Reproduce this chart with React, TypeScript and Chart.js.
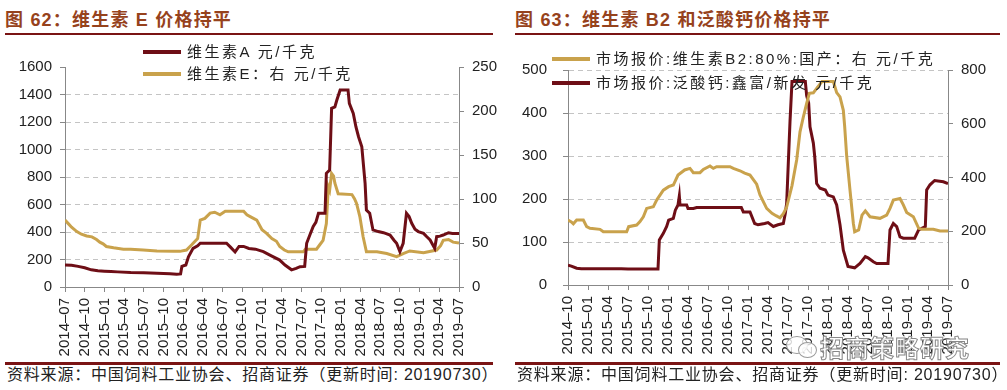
import React, { useEffect, useRef } from "react";
import { Chart, registerables } from "chart.js";

Chart.register(...registerables);

// ---------- tick labels ----------
const leftTickLabels = [
  "2014–07", "2014–10", "2015–01", "2015–04", "2015–07", "2015–10", "2016–01",
  "2016–04", "2016–07", "2016–10", "2017–01", "2017–04", "2017–07", "2017–10",
  "2018–01", "2018–04", "2018–07", "2018–10", "2019–01", "2019–04", "2019–07",
];
const rightTickLabels = [
  "2014–10", "2015–01", "2015–04", "2015–07", "2015–10", "2016–01", "2016–04",
  "2016–07", "2016–10", "2017–01", "2017–04", "2017–07", "2017–10", "2018–01",
  "2018–04", "2018–07", "2018–10", "2019–01", "2019–04", "2019–07",
];

// ---------- chart 62: months since 2014-07 ----------
const vitAMonths = [
  0, 1, 2, 3, 4, 5, 6, 7, 8, 10, 12, 14, 16, 17, 17.6, 17.8, 18.4, 18.8, 19.5, 20.2, 20.6,
  24.6, 25.2, 25.9, 26.5, 27.2, 28, 29, 30.2, 31.5, 32.7, 33.5, 34.5, 35.2, 35.8, 36.5,
  36.8, 37.3, 37.8, 38.2, 38.6, 39.6, 39.8, 40.3, 40.6, 41.1, 41.4, 41.9, 43.1, 43.3,
  43.9, 44.3, 44.7, 45.2, 45.7, 45.9, 46.4, 46.9, 47.7, 48.5, 49.5, 50.1, 50.5, 51,
  51.5, 52, 52.4, 52.8, 53.3, 53.8, 54.6, 55.1, 55.6, 56.3, 56.6, 57.1, 57.6, 58.4, 59, 60,
];
const vitAPrices = [
  160, 158, 150, 140, 125, 118, 115, 112, 110, 105, 103, 100, 97, 92, 95, 150, 160, 220, 281, 300, 318,
  318, 290, 255, 295, 295, 280, 275, 257, 225, 196, 160, 125, 135, 148, 150,
  318, 380, 440, 470, 536, 536, 827, 850, 1300, 1310, 1360, 1433, 1433, 1336,
  1263, 1166, 1093, 1020, 754, 560, 536, 415, 403, 395, 378, 340, 318, 257,
  318, 536, 512, 463, 420, 403, 390, 365, 342, 281, 366, 370, 378, 395, 390, 390,
];
const vitEMonths = [
  0, 0.5, 1, 1.8, 2.5, 3.3, 4.1, 4.8, 5.3, 5.8, 6.3, 7.4, 8.9, 10, 11.9, 14, 16.5, 17.5,
  18.5, 19.3, 19.8, 20.2, 20.6, 21.3, 22.1, 22.8, 23.6, 24.4, 27.2, 27.7, 28.2, 29.2, 30,
  30.7, 31.5, 32.2, 32.7, 33.4, 34, 36.3, 36.6, 38.3, 38.8, 39.3, 39.8, 40.1, 40.3, 40.6,
  40.9, 41.1, 41.6, 43.7, 44.1, 44.4, 44.9, 45.4, 45.9, 47.5, 49, 50.5, 51.5, 52.5, 54.6,
  56.6, 57.2, 57.6, 58.4, 59.1, 60,
];
const vitEPrices = [
  76, 72, 68, 63, 60, 58, 57, 54, 51, 49, 46, 44.5, 43, 43, 42, 41, 40.5, 40.5,
  42, 48, 52, 55, 76, 78, 84, 85, 82, 86, 86, 82, 80, 76, 65,
  61, 55, 52, 46, 42, 40, 40, 43, 43, 48, 53, 72, 114, 110, 129,
  126, 118, 106, 105, 100, 95, 80, 57, 40, 40, 38, 34.5, 38, 41, 39,
  42, 47, 53, 54, 51, 50,
];

// ---------- chart 63: months since 2014-10 ----------
const b2Months = [
  0, 0.5, 0.8, 1.3, 2.3, 2.8, 3.3, 4.8, 5.3, 8.8, 9.1, 10.3, 10.8, 11.3, 11.8, 12.8, 13.3,
  14.3, 15.1, 15.8, 16.5, 17.5, 18.3, 18.8, 19.8, 20.3, 21.3, 21.8, 22.3, 24.3, 24.8, 25.8,
  26.5, 27.3, 28.3, 28.8, 29.8, 30.6, 31.2, 31.8, 32.3, 32.8, 33.6, 34.3, 34.8, 35.3, 35.8,
  36.2, 36.8, 37.5, 38.1, 39.8, 40.3, 40.8, 41.3, 41.5, 41.8, 42.3, 42.8, 43, 43.6, 44.1,
  44.6, 45.3, 46.8, 47.8, 48.3, 48.8, 49.8, 50.3, 50.8, 51.8, 52.6, 53.1, 54.8, 55.8, 57,
];
const b2Prices = [
  242, 235, 228, 242, 242, 217, 211, 207, 198, 198, 217, 223, 236, 254, 285, 291, 316,
  353, 366, 372, 409, 428, 434, 418, 418, 430, 443, 434, 440, 440, 434, 425,
  416, 409, 375, 335, 285, 267, 258, 250, 265, 290, 370, 465, 570, 625, 676,
  713, 715, 738, 757, 757, 716, 700, 650, 590, 480, 353, 230, 198, 205, 260,
  276, 254, 248, 260, 285, 316, 322, 298, 270, 254, 211, 207, 207, 201, 201,
];
const caPanMonths = [
  0, 0.5, 1.3, 2, 8, 9, 13.5, 13.7, 14.3, 14.8, 15.1, 15.8, 16.1, 16.5, 16.7, 16.8, 17.8,
  18, 18.8, 19.3, 26, 26.3, 27.3, 28, 28.5, 29.5, 30, 30.8, 31.5, 32.3, 32.6, 32.8, 33.3,
  33.6, 35.6, 35.8, 36.1, 36.3, 36.8, 37, 37.3, 37.8, 38.6, 39, 39.8, 40.3, 40.8, 41.3,
  42, 43, 43.8, 44.6, 45, 45.8, 46.3, 48, 48.3, 48.8, 49.3, 49.8, 50.3, 52, 52.6, 53.6,
  53.8, 54.3, 55, 56.3, 57,
];
const caPanPrices = [
  46, 44, 39, 38, 38, 37, 37, 105, 120, 136, 151, 155, 174, 186, 207, 186, 186,
  178, 178, 180, 180, 170, 170, 143, 140, 143, 145, 136, 140, 143, 167, 190, 380,
  473, 473, 440, 423, 368, 330, 300, 236, 225, 221, 209, 205, 186, 140, 81,
  43, 40, 50, 66, 63, 54, 50, 50, 128, 143, 136, 112, 109, 109, 128, 136,
  221, 233, 243, 240, 236,
];

const MAROON = "#6E0E16";
const GOLD = "#C9A24C";
const TICK_FONT = '"Liberation Sans", Arial, sans-serif';
const CJK_FONT = '"Liberation Sans", "Noto Sans CJK SC", sans-serif';

const zip = (xs: number[], ys: number[]) => xs.map((x, i) => ({ x, y: ys[i] }));

interface PanelProps {
  width: number;
  height: number;
  tickLabels: string[];
  leftMax: number;
  leftStep: number;
  rightMax: number;
  rightStep: number;
  leftAxisW: number;
  rightAxisW: number;
  topPad: number;
  bottomH: number;
  leftTickPad: number;
  rightTickPad: number;
  gridTop: boolean;
  series: { data: { x: number; y: number }[]; color: string; axis: string }[];
}

function Panel(p: PanelProps) {
  const ref = useRef<HTMLCanvasElement | null>(null);
  useEffect(() => {
    if (!ref.current) return;
    const maxX = (p.tickLabels.length - 1) * 3;
    const chart = new Chart(ref.current, {
      type: "line",
      data: {
        datasets: p.series.map((s) => ({
          data: s.data,
          borderColor: s.color,
          backgroundColor: s.color,
          borderWidth: 3,
          pointRadius: 0,
          tension: 0,
          yAxisID: s.axis,
        })),
      },
      options: {
        animation: false,
        responsive: false,
        maintainAspectRatio: false,
        layout: { padding: { top: p.topPad, left: 0, right: 0, bottom: 0 } },
        plugins: { legend: { display: false }, tooltip: { enabled: false } },
        scales: {
          x: {
            type: "linear",
            min: 0,
            max: maxX,
            afterBuildTicks: (s: any) => {
              s.ticks = p.tickLabels.map((_, i) => ({ value: i * 3 }));
            },
            afterFit: (s: any) => {
              s.height = p.bottomH;
            },
            ticks: {
              autoSkip: false,
              minRotation: 90,
              maxRotation: 90,
              padding: 6,
              color: "#222",
              font: { size: 15, family: TICK_FONT },
              callback: (v: any) => p.tickLabels[Math.round(Number(v) / 3)],
            },
            grid: { drawOnChartArea: false, tickLength: 5, tickColor: "#888" },
            border: { color: "#888", width: 1 },
          },
          yL: {
            position: "left",
            min: 0,
            max: p.leftMax,
            afterFit: (s: any) => {
              s.width = p.leftAxisW;
            },
            ticks: {
              stepSize: p.leftStep,
              padding: p.leftTickPad,
              color: "#222",
              font: { size: 15, family: TICK_FONT },
              callback: (v: any) => String(v),
            },
            grid: {
              color: (ctx: any) => {
                const v = ctx.tick ? ctx.tick.value : 0;
                if (v === 0) return "rgba(0,0,0,0)";
                if (v === p.leftMax && !p.gridTop) return "rgba(0,0,0,0)";
                return "#c4c4c4";
              },
              tickColor: "#888",
              tickLength: 5,
              lineWidth: 1,
            },
            border: { color: "#888", width: 1, dash: [5, 4] },
          },
          yR: {
            position: "right",
            min: 0,
            max: p.rightMax,
            afterFit: (s: any) => {
              s.width = p.rightAxisW;
            },
            ticks: {
              stepSize: p.rightStep,
              padding: p.rightTickPad,
              color: "#222",
              font: { size: 15, family: TICK_FONT },
              callback: (v: any) => String(v),
            },
            grid: { drawOnChartArea: false, tickColor: "#888", tickLength: 5 },
            border: { color: "#888", width: 1 },
          },
        },
      },
    } as any);
    return () => chart.destroy();
  }, []);
  return <canvas ref={ref} width={p.width} height={p.height} style={{ width: p.width, height: p.height, display: "block" }} />;
}

const abs = (left: number, top: number, extra: any = {}) => ({ position: "absolute" as const, left, top, ...extra });

function Title({ x, text, w }: { x: number; text: string; w: number }) {
  return (
    <>
      <div style={abs(x, 10, { fontFamily: CJK_FONT, fontWeight: 700, fontSize: 18, lineHeight: "20px", letterSpacing: "1.2px", color: "#96421C", whiteSpace: "nowrap" })}>{text}</div>
      <div style={abs(x, 33, { width: w, height: 2, background: "#7A1414" })} />
    </>
  );
}

function Footer({ x, w }: { x: number; w: number }) {
  return (
    <>
      <div style={abs(x, 362, { width: w, height: 3, background: "#7A1414" })} />
      <div style={abs(x + 2, 365, { fontFamily: CJK_FONT, fontSize: 16, lineHeight: "20px", letterSpacing: "0.8px", color: "#222", whiteSpace: "nowrap" })}>
        资料来源：中国饲料工业协会、招商证券（更新时间: 20190730）
      </div>
    </>
  );
}

function LegendItem({ x, y, color, text }: { x: number; y: number; color: string; text: string }) {
  return (
    <>
      <div style={abs(x, y - 2, { width: 38, height: 4, background: color })} />
      <div style={abs(x + 44, y - 10, { fontFamily: CJK_FONT, fontSize: 15, lineHeight: "20px", letterSpacing: "2.5px", color: "#222", whiteSpace: "nowrap" })}>{text}</div>
    </>
  );
}

export default function App() {
  return (
    <div style={{ position: "absolute", left: 0, top: 0, width: 1007, height: 390, background: "#fff", overflow: "hidden" }}>
      <Title x={5} w={488} text="图 62：维生素 E 价格持平" />
      <Title x={515} w={485} text="图 63：维生素 B2 和泛酸钙价格持平" />

      <div style={abs(0, 40)}>
        <Panel
          width={500}
          height={320}
          tickLabels={leftTickLabels}
          leftMax={1600}
          leftStep={200}
          rightMax={250}
          rightStep={50}
          leftAxisW={65}
          rightAxisW={41}
          topPad={27}
          bottomH={73}
          leftTickPad={8}
          rightTickPad={8}
          gridTop={false}
          series={[
            { data: zip(vitAMonths, vitAPrices), color: MAROON, axis: "yL" },
            { data: zip(vitEMonths, vitEPrices), color: GOLD, axis: "yR" },
          ]}
        />
      </div>
      <div style={abs(500, 40)}>
        <Panel
          width={507}
          height={320}
          tickLabels={rightTickLabels}
          leftMax={500}
          leftStep={100}
          rightMax={800}
          rightStep={200}
          leftAxisW={68}
          rightAxisW={59}
          topPad={30}
          bottomH={75}
          leftTickPad={16}
          rightTickPad={8}
          gridTop={true}
          series={[
            { data: zip(b2Months, b2Prices), color: GOLD, axis: "yR" },
            { data: zip(caPanMonths, caPanPrices), color: MAROON, axis: "yL" },
          ]}
        />
      </div>

      <LegendItem x={143} y={52} color={MAROON} text="维生素A 元/千克" />
      <LegendItem x={143} y={74} color={GOLD} text="维生素E：右 元/千克" />
      <LegendItem x={552} y={59} color={GOLD} text="市场报价:维生素B2:80%:国产：右 元/千克" />
      <LegendItem x={552} y={83} color={MAROON} text="市场报价:泛酸钙:鑫富/新发 元/千克" />

      <div style={abs(786, 336, { width: 20, height: 16, borderRadius: "50%", border: "1.5px solid #999", background: "rgba(255,255,255,0.8)" })} />
      <div style={abs(798, 342, { width: 17, height: 14, borderRadius: "50%", border: "1.5px solid #999", background: "rgba(255,255,255,0.8)" })} />
      <div style={abs(820, 333, { fontFamily: '"Noto Sans CJK SC", sans-serif', fontWeight: 700, fontSize: 24, lineHeight: "28px", color: "rgba(255,255,255,0.85)", WebkitTextStroke: "1px #888", whiteSpace: "nowrap", letterSpacing: "1px" })}>
        招商策略研究
      </div>

      <Footer x={5} w={488} />
      <Footer x={515} w={485} />
    </div>
  );
}
